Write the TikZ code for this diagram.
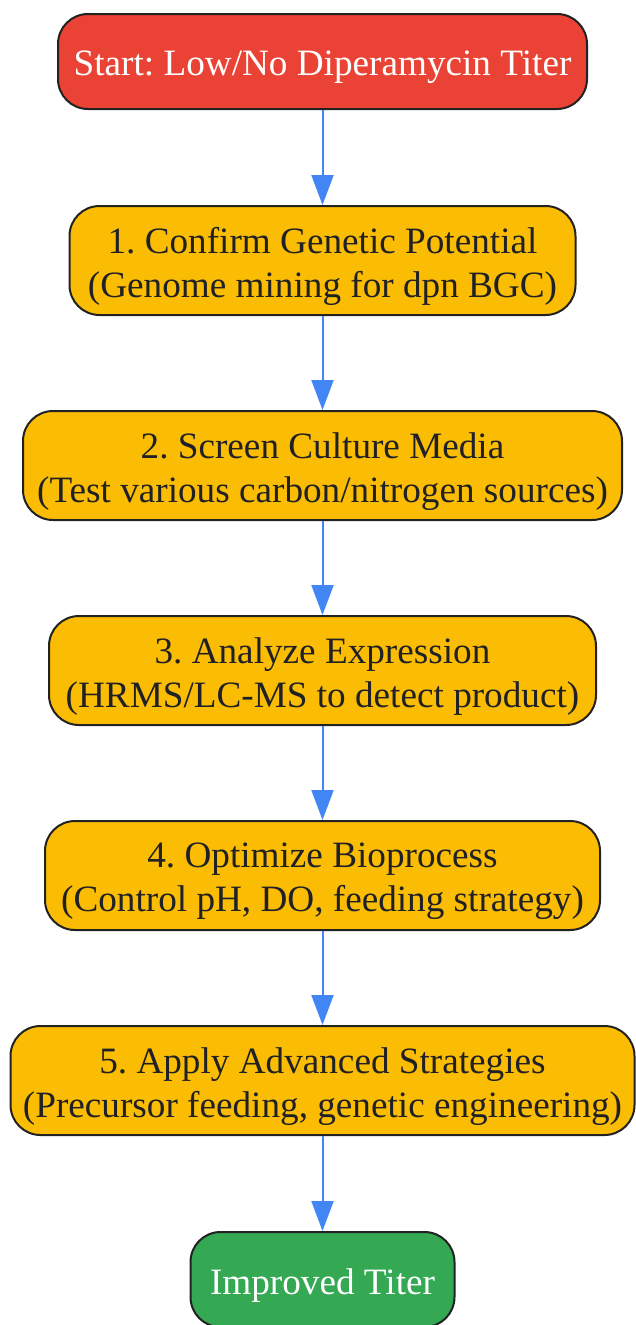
\documentclass[tikz,border=0pt]{standalone}
\usepackage{fontspec}
\setmainfont{Liberation Serif}
\frenchspacing
\usetikzlibrary{arrows.meta}
\definecolor{cred}{HTML}{EA4335}
\definecolor{cyel}{HTML}{FBBC04}
\definecolor{cgrn}{HTML}{34A853}
\definecolor{cblue}{HTML}{4285F4}
\definecolor{cline}{HTML}{222222}
\definecolor{ctext}{HTML}{202124}
\begin{document}
\begin{tikzpicture}[x=1pt,y=-1pt,
  box/.style={draw=cline,line width=2pt,rounded corners=30pt,inner sep=0pt},
  stepbox/.style={box,fill=cyel,minimum height=109pt},
  endbox/.style={box,minimum height=95pt},
  txt/.style={align=center,inner sep=0pt,font=\fontsize{37.2}{44}\selectfont},
  darktxt/.style={txt,text=ctext},
  whitetxt/.style={txt,text=white},
  conn/.style={draw=cblue,line width=2pt,-{Triangle[length=30pt,width=22pt,fill=cblue]}}]
\useasboundingbox (0,0) rectangle (635,1325);
\node[endbox,fill=cred,minimum width=529pt] (s) at (322.5,61.5) {};
\node[stepbox,minimum width=506pt] (n1) at (322.5,260.5) {};
\node[stepbox,minimum width=599pt] (n2) at (322.5,465.5) {};
\node[stepbox,minimum width=547pt] (n3) at (322.5,670.5) {};
\node[stepbox,minimum width=555pt] (n4) at (322.5,875.5) {};
\node[stepbox,minimum width=624pt] (n5) at (322.5,1080.5) {};
\node[endbox,fill=cgrn,minimum width=264pt] (e) at (322.5,1279.5) {};
\node[whitetxt] (ts) at ([yshift=-6pt]s.center) {Start: Low/No Diperamycin Titer};
\node[darktxt] (t1) at ([yshift=-6pt]n1.center) {1. Confirm Genetic Potential\\(Genome mining for dpn BGC)};
\node[darktxt] (t2) at ([yshift=-6pt]n2.center) {2. Screen Culture Media\\(Test various carbon/nitrogen sources)};
\node[darktxt] (t3) at ([yshift=-6pt]n3.center) {3. Analyze Expression\\(HRMS/LC-MS to detect product)};
\node[darktxt] (t4) at ([yshift=-6pt]n4.center) {4. Optimize Bioprocess\\(Control pH, DO, feeding strategy)};
\node[darktxt] (t5) at ([yshift=-6pt]n5.center) {5. Apply Advanced Strategies\\(Precursor feeding, genetic engineering)};
\node[whitetxt] (te) at ([yshift=-6pt]e.center) {Improved Titer};
\draw[conn] (s) -- (n1);
\draw[conn] (n1) -- (n2);
\draw[conn] (n2) -- (n3);
\draw[conn] (n3) -- (n4);
\draw[conn] (n4) -- (n5);
\draw[conn] (n5) -- (e);
\end{tikzpicture}
\end{document}
